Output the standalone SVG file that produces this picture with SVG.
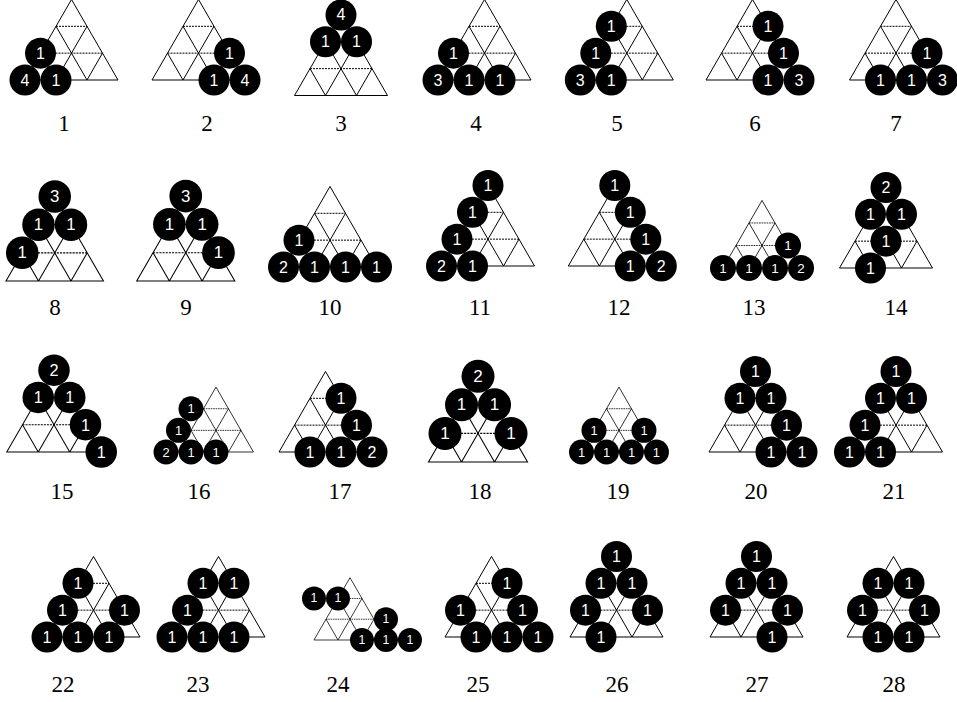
<svg xmlns="http://www.w3.org/2000/svg" width="957" height="702" viewBox="0 0 957 702">
<style>
.t{fill:none;stroke:#000;stroke-width:1}
.d{fill:none;stroke:#000;stroke-width:1;stroke-dasharray:2 1}
.f circle{fill:#000}
.f text{fill:#fff;font-family:"Liberation Sans",Arial,sans-serif;font-size:16px;text-anchor:middle;dominant-baseline:central}
.cap{font-family:"Liberation Serif","Times New Roman",serif;font-size:23px;text-anchor:middle;fill:#000}
</style>
<defs>
<g id="tri">
<path class="t" d="M0,0H93L46.5,-80.54Z M31,0L62,-53.69 M62,0L77.5,-26.85 M31,0L15.5,-26.85 M62,0L31,-53.69"/>
<path class="d" d="M15.5,-26.85H77.5 M31,-53.69H62"/>
</g>
</defs>
<g id="connectors"></g>

<g id="fig1"><g class="f" transform="translate(25,80)"><use href="#tri"/>
<circle cx="0" cy="0" r="15.5"/><text x="0" y="0">4</text>
<circle cx="31" cy="0" r="15.5"/><text x="31" y="0">1</text>
<circle cx="15.5" cy="-26.85" r="15.5"/><text x="15.5" y="-26.85">1</text>
</g><text class="cap" x="64" y="131">1</text></g>

<g id="fig2"><g class="f" transform="translate(152,80)"><use href="#tri"/>
<circle cx="62" cy="0" r="15.5"/><text x="62" y="0">1</text>
<circle cx="93" cy="0" r="15.5"/><text x="93" y="0">4</text>
<circle cx="77.5" cy="-26.85" r="15.5"/><text x="77.5" y="-26.85">1</text>
</g><text class="cap" x="207" y="131">2</text></g>

<g id="fig3"><g class="f" transform="translate(294.5,95.5)"><use href="#tri"/>
<circle cx="31" cy="-53.69" r="15.5"/><text x="31" y="-53.69">1</text>
<circle cx="62" cy="-53.69" r="15.5"/><text x="62" y="-53.69">1</text>
<circle cx="46.5" cy="-80.54" r="15.5"/><text x="46.5" y="-80.54">4</text>
</g><text class="cap" x="341" y="131">3</text></g>

<g id="fig4"><g class="f" transform="translate(438,80)"><use href="#tri"/>
<circle cx="0" cy="0" r="15.5"/><text x="0" y="0">3</text>
<circle cx="31" cy="0" r="15.5"/><text x="31" y="0">1</text>
<circle cx="62" cy="0" r="15.5"/><text x="62" y="0">1</text>
<circle cx="15.5" cy="-26.85" r="15.5"/><text x="15.5" y="-26.85">1</text>
</g><text class="cap" x="476" y="131">4</text></g>

<g id="fig5"><g class="f" transform="translate(580.3,80)"><use href="#tri"/>
<circle cx="0" cy="0" r="15.5"/><text x="0" y="0">3</text>
<circle cx="31" cy="0" r="15.5"/><text x="31" y="0">1</text>
<circle cx="15.5" cy="-26.85" r="15.5"/><text x="15.5" y="-26.85">1</text>
<circle cx="31" cy="-53.69" r="15.5"/><text x="31" y="-53.69">1</text>
</g><text class="cap" x="617" y="131">5</text></g>

<g id="fig6"><g class="f" transform="translate(706,80)"><use href="#tri"/>
<circle cx="62" cy="0" r="15.5"/><text x="62" y="0">1</text>
<circle cx="93" cy="0" r="15.5"/><text x="93" y="0">3</text>
<circle cx="77.5" cy="-26.85" r="15.5"/><text x="77.5" y="-26.85">1</text>
<circle cx="62" cy="-53.69" r="15.5"/><text x="62" y="-53.69">1</text>
</g><text class="cap" x="755" y="131">6</text></g>

<g id="fig7"><g class="f" transform="translate(849.5,80)"><use href="#tri"/>
<circle cx="31" cy="0" r="15.5"/><text x="31" y="0">1</text>
<circle cx="62" cy="0" r="15.5"/><text x="62" y="0">1</text>
<circle cx="93" cy="0" r="15.5"/><text x="93" y="0">3</text>
<circle cx="77.5" cy="-26.85" r="15.5"/><text x="77.5" y="-26.85">1</text>
</g><text class="cap" x="896" y="131">7</text></g>

<g id="fig8"><g class="f" transform="translate(6,281) scale(1.048)"><use href="#tri"/>
<circle cx="15.5" cy="-26.85" r="15.5"/><text x="15.5" y="-26.85">1</text>
<circle cx="31" cy="-53.69" r="15.5"/><text x="31" y="-53.69">1</text>
<circle cx="62" cy="-53.69" r="15.5"/><text x="62" y="-53.69">1</text>
<circle cx="46.5" cy="-80.54" r="15.5"/><text x="46.5" y="-80.54">3</text>
</g><text class="cap" x="55" y="315">8</text></g>

<g id="fig9"><g class="f" transform="translate(136.7,281) scale(1.055)"><use href="#tri"/>
<circle cx="46.5" cy="-80.54" r="15.5"/><text x="46.5" y="-80.54">3</text>
<circle cx="31" cy="-53.69" r="15.5"/><text x="31" y="-53.69">1</text>
<circle cx="62" cy="-53.69" r="15.5"/><text x="62" y="-53.69">1</text>
<circle cx="77.5" cy="-26.85" r="15.5"/><text x="77.5" y="-26.85">1</text>
</g><text class="cap" x="186" y="315">9</text></g>

<g id="fig10"><g class="f" transform="translate(283.5,267)"><use href="#tri"/>
<circle cx="0" cy="0" r="15.5"/><text x="0" y="0">2</text>
<circle cx="31" cy="0" r="15.5"/><text x="31" y="0">1</text>
<circle cx="62" cy="0" r="15.5"/><text x="62" y="0">1</text>
<circle cx="93" cy="0" r="15.5"/><text x="93" y="0">1</text>
<circle cx="15.5" cy="-26.85" r="15.5"/><text x="15.5" y="-26.85">1</text>
</g><text class="cap" x="330" y="315">10</text></g>

<g id="fig11"><g class="f" transform="translate(441.5,266)"><use href="#tri"/>
<circle cx="0" cy="0" r="15.5"/><text x="0" y="0">2</text>
<circle cx="31" cy="0" r="15.5"/><text x="31" y="0">1</text>
<circle cx="15.5" cy="-26.85" r="15.5"/><text x="15.5" y="-26.85">1</text>
<circle cx="31" cy="-53.69" r="15.5"/><text x="31" y="-53.69">1</text>
<circle cx="46.5" cy="-80.54" r="15.5"/><text x="46.5" y="-80.54">1</text>
</g><text class="cap" x="480" y="315">11</text></g>

<g id="fig12"><g class="f" transform="translate(568.3,266)"><use href="#tri"/>
<circle cx="62" cy="0" r="15.5"/><text x="62" y="0">1</text>
<circle cx="93" cy="0" r="15.5"/><text x="93" y="0">2</text>
<circle cx="77.5" cy="-26.85" r="15.5"/><text x="77.5" y="-26.85">1</text>
<circle cx="62" cy="-53.69" r="15.5"/><text x="62" y="-53.69">1</text>
<circle cx="46.5" cy="-80.54" r="15.5"/><text x="46.5" y="-80.54">1</text>
</g><text class="cap" x="619" y="315">12</text></g>

<g id="fig13"><g class="f" transform="translate(723,268) scale(0.839)"><use href="#tri"/>
<circle cx="0" cy="0" r="15.5"/><text x="0" y="0">1</text>
<circle cx="31" cy="0" r="15.5"/><text x="31" y="0">1</text>
<circle cx="62" cy="0" r="15.5"/><text x="62" y="0">1</text>
<circle cx="93" cy="0" r="15.5"/><text x="93" y="0">2</text>
<circle cx="77.5" cy="-26.85" r="15.5"/><text x="77.5" y="-26.85">1</text>
</g><text class="cap" x="754" y="315">13</text></g>

<g id="fig14"><g class="f" transform="translate(839.5,268)"><use href="#tri"/>
<circle cx="31" cy="0" r="15.5"/><text x="31" y="0">1</text>
<circle cx="46.5" cy="-26.85" r="15.5"/><text x="46.5" y="-26.85">1</text>
<circle cx="31" cy="-53.69" r="15.5"/><text x="31" y="-53.69">1</text>
<circle cx="62" cy="-53.69" r="15.5"/><text x="62" y="-53.69">1</text>
<circle cx="46.5" cy="-80.54" r="15.5"/><text x="46.5" y="-80.54">2</text>
</g><text class="cap" x="896" y="315">14</text></g>

<g id="fig15"><g class="f" transform="translate(6.75,452) scale(1.016)"><use href="#tri"/>
<circle cx="46.5" cy="-80.54" r="15.5"/><text x="46.5" y="-80.54">2</text>
<circle cx="31" cy="-53.69" r="15.5"/><text x="31" y="-53.69">1</text>
<circle cx="62" cy="-53.69" r="15.5"/><text x="62" y="-53.69">1</text>
<circle cx="77.5" cy="-26.85" r="15.5"/><text x="77.5" y="-26.85">1</text>
<circle cx="93" cy="0" r="15.5"/><text x="93" y="0">1</text>
</g><text class="cap" x="62" y="499">15</text></g>

<g id="fig16"><g class="f" transform="translate(166,452) scale(0.806)"><use href="#tri" x="15.5"/>
<circle cx="0" cy="0" r="15.5"/><text x="0" y="0">2</text>
<circle cx="31" cy="0" r="15.5"/><text x="31" y="0">1</text>
<circle cx="62" cy="0" r="15.5"/><text x="62" y="0">1</text>
<circle cx="15.5" cy="-26.85" r="15.5"/><text x="15.5" y="-26.85">1</text>
<circle cx="31" cy="-53.69" r="15.5"/><text x="31" y="-53.69">1</text>
</g><text class="cap" x="199" y="499">16</text></g>

<g id="fig17"><g class="f" transform="translate(279,452)"><use href="#tri"/>
<circle cx="31" cy="0" r="15.5"/><text x="31" y="0">1</text>
<circle cx="62" cy="0" r="15.5"/><text x="62" y="0">1</text>
<circle cx="93" cy="0" r="15.5"/><text x="93" y="0">2</text>
<circle cx="77.5" cy="-26.85" r="15.5"/><text x="77.5" y="-26.85">1</text>
<circle cx="62" cy="-53.69" r="15.5"/><text x="62" y="-53.69">1</text>
</g><text class="cap" x="340" y="499">17</text></g>

<g id="fig18"><g class="f" transform="translate(428.5,462) scale(1.065)"><use href="#tri"/>
<circle cx="46.5" cy="-80.54" r="15.5"/><text x="46.5" y="-80.54">2</text>
<circle cx="31" cy="-53.69" r="15.5"/><text x="31" y="-53.69">1</text>
<circle cx="62" cy="-53.69" r="15.5"/><text x="62" y="-53.69">1</text>
<circle cx="15.5" cy="-26.85" r="15.5"/><text x="15.5" y="-26.85">1</text>
<circle cx="77.5" cy="-26.85" r="15.5"/><text x="77.5" y="-26.85">1</text>
</g><text class="cap" x="480" y="499">18</text></g>

<g id="fig19"><g class="f" transform="translate(581.5,452) scale(0.806)"><use href="#tri"/>
<circle cx="0" cy="0" r="15.5"/><text x="0" y="0">1</text>
<circle cx="31" cy="0" r="15.5"/><text x="31" y="0">1</text>
<circle cx="62" cy="0" r="15.5"/><text x="62" y="0">1</text>
<circle cx="93" cy="0" r="15.5"/><text x="93" y="0">1</text>
<circle cx="15.5" cy="-26.85" r="15.5"/><text x="15.5" y="-26.85">1</text>
<circle cx="77.5" cy="-26.85" r="15.5"/><text x="77.5" y="-26.85">1</text>
</g><text class="cap" x="618" y="499">19</text></g>

<g id="fig20"><g class="f" transform="translate(709,452)"><use href="#tri"/>
<circle cx="62" cy="0" r="15.5"/><text x="62" y="0">1</text>
<circle cx="93" cy="0" r="15.5"/><text x="93" y="0">1</text>
<circle cx="77.5" cy="-26.85" r="15.5"/><text x="77.5" y="-26.85">1</text>
<circle cx="31" cy="-53.69" r="15.5"/><text x="31" y="-53.69">1</text>
<circle cx="62" cy="-53.69" r="15.5"/><text x="62" y="-53.69">1</text>
<circle cx="46.5" cy="-80.54" r="15.5"/><text x="46.5" y="-80.54">1</text>
</g><text class="cap" x="756" y="499">20</text></g>

<g id="fig21"><g class="f" transform="translate(849.5,452)"><use href="#tri"/>
<circle cx="0" cy="0" r="15.5"/><text x="0" y="0">1</text>
<circle cx="31" cy="0" r="15.5"/><text x="31" y="0">1</text>
<circle cx="15.5" cy="-26.85" r="15.5"/><text x="15.5" y="-26.85">1</text>
<circle cx="31" cy="-53.69" r="15.5"/><text x="31" y="-53.69">1</text>
<circle cx="62" cy="-53.69" r="15.5"/><text x="62" y="-53.69">1</text>
<circle cx="46.5" cy="-80.54" r="15.5"/><text x="46.5" y="-80.54">1</text>
</g><text class="cap" x="894" y="499">21</text></g>

<g id="fig22"><g class="f" transform="translate(47,637)"><use href="#tri"/>
<circle cx="0" cy="0" r="15.5"/><text x="0" y="0">1</text>
<circle cx="31" cy="0" r="15.5"/><text x="31" y="0">1</text>
<circle cx="62" cy="0" r="15.5"/><text x="62" y="0">1</text>
<circle cx="15.5" cy="-26.85" r="15.5"/><text x="15.5" y="-26.85">1</text>
<circle cx="77.5" cy="-26.85" r="15.5"/><text x="77.5" y="-26.85">1</text>
<circle cx="31" cy="-53.69" r="15.5"/><text x="31" y="-53.69">1</text>
</g><text class="cap" x="63" y="692">22</text></g>

<g id="fig23"><g class="f" transform="translate(172,637)"><use href="#tri"/>
<circle cx="0" cy="0" r="15.5"/><text x="0" y="0">1</text>
<circle cx="31" cy="0" r="15.5"/><text x="31" y="0">1</text>
<circle cx="62" cy="0" r="15.5"/><text x="62" y="0">1</text>
<circle cx="15.5" cy="-26.85" r="15.5"/><text x="15.5" y="-26.85">1</text>
<circle cx="31" cy="-53.69" r="15.5"/><text x="31" y="-53.69">1</text>
<circle cx="62" cy="-53.69" r="15.5"/><text x="62" y="-53.69">1</text>
</g><text class="cap" x="198" y="692">23</text></g>

<g id="fig24"><g class="f" transform="translate(290,640) scale(0.774)"><use href="#tri" x="31"/>
<circle cx="93" cy="0" r="15.5"/><text x="93" y="0">1</text>
<circle cx="124" cy="0" r="15.5"/><text x="124" y="0">1</text>
<circle cx="155" cy="0" r="15.5"/><text x="155" y="0">1</text>
<circle cx="124" cy="-26.85" r="15.5"/><text x="124" y="-26.85">1</text>
<circle cx="31" cy="-53.69" r="15.5"/><text x="31" y="-53.69">1</text>
<circle cx="62" cy="-53.69" r="15.5"/><text x="62" y="-53.69">1</text>
</g><text class="cap" x="338" y="692">24</text></g>

<g id="fig25"><g class="f" transform="translate(445,637)"><use href="#tri"/>
<circle cx="31" cy="0" r="15.5"/><text x="31" y="0">1</text>
<circle cx="62" cy="0" r="15.5"/><text x="62" y="0">1</text>
<circle cx="93" cy="0" r="15.5"/><text x="93" y="0">1</text>
<circle cx="15.5" cy="-26.85" r="15.5"/><text x="15.5" y="-26.85">1</text>
<circle cx="77.5" cy="-26.85" r="15.5"/><text x="77.5" y="-26.85">1</text>
<circle cx="62" cy="-53.69" r="15.5"/><text x="62" y="-53.69">1</text>
</g><text class="cap" x="478" y="692">25</text></g>

<g id="fig26"><g class="f" transform="translate(570,637)"><use href="#tri"/>
<circle cx="31" cy="0" r="15.5"/><text x="31" y="0">1</text>
<circle cx="15.5" cy="-26.85" r="15.5"/><text x="15.5" y="-26.85">1</text>
<circle cx="77.5" cy="-26.85" r="15.5"/><text x="77.5" y="-26.85">1</text>
<circle cx="31" cy="-53.69" r="15.5"/><text x="31" y="-53.69">1</text>
<circle cx="62" cy="-53.69" r="15.5"/><text x="62" y="-53.69">1</text>
<circle cx="46.5" cy="-80.54" r="15.5"/><text x="46.5" y="-80.54">1</text>
</g><text class="cap" x="617" y="692">26</text></g>

<g id="fig27"><g class="f" transform="translate(710,637)"><use href="#tri"/>
<circle cx="62" cy="0" r="15.5"/><text x="62" y="0">1</text>
<circle cx="15.5" cy="-26.85" r="15.5"/><text x="15.5" y="-26.85">1</text>
<circle cx="77.5" cy="-26.85" r="15.5"/><text x="77.5" y="-26.85">1</text>
<circle cx="31" cy="-53.69" r="15.5"/><text x="31" y="-53.69">1</text>
<circle cx="62" cy="-53.69" r="15.5"/><text x="62" y="-53.69">1</text>
<circle cx="46.5" cy="-80.54" r="15.5"/><text x="46.5" y="-80.54">1</text>
</g><text class="cap" x="757" y="692">27</text></g>

<g id="fig28"><g class="f" transform="translate(847,637)"><use href="#tri"/>
<circle cx="31" cy="0" r="15.5"/><text x="31" y="0">1</text>
<circle cx="62" cy="0" r="15.5"/><text x="62" y="0">1</text>
<circle cx="15.5" cy="-26.85" r="15.5"/><text x="15.5" y="-26.85">1</text>
<circle cx="77.5" cy="-26.85" r="15.5"/><text x="77.5" y="-26.85">1</text>
<circle cx="31" cy="-53.69" r="15.5"/><text x="31" y="-53.69">1</text>
<circle cx="62" cy="-53.69" r="15.5"/><text x="62" y="-53.69">1</text>
</g><text class="cap" x="894" y="692">28</text></g>
</svg>
